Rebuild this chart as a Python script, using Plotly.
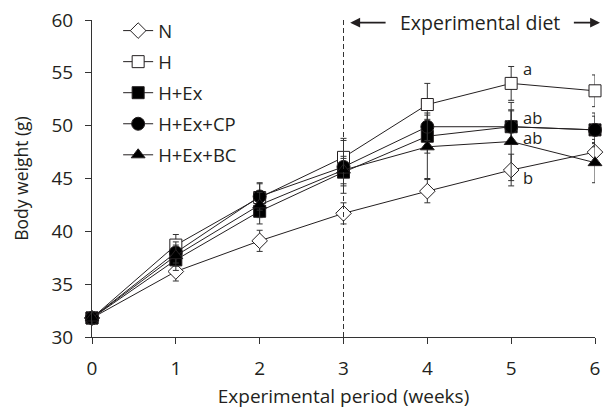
import plotly.graph_objects as go

weeks = [0, 1, 2, 3, 4, 5, 6]
groups = ["N", "H", "H+Ex", "H+Ex+CP", "H+Ex+BC"]
N_vals = [31.8, 36.2, 39.1, 41.7, 43.8, 45.8, 47.5]
N_err = [0.6, 0.9, 1.0, 1.0, 1.1, 1.5, 1.2]
H_vals = [31.8, 38.7, 43.2, 47.0, 52.0, 54.0, 53.3]
H_err = [0.6, 1.0, 1.3, 1.8, 2.0, 1.6, 1.5]
HEx_vals = [31.8, 37.3, 41.9, 45.6, 49.0, 49.9, 49.6]
HEx_err = [0.6, 1.0, 1.2, 1.3, 1.6, 1.6, 1.6]
HExCP_vals = [31.8, 38.0, 43.3, 46.1, 49.9, 49.9, 49.6]
HExCP_err = [0.6, 1.0, 1.3, 2.5, 1.3, 1.5, 1.3]
HExBC_vals = [31.8, 37.7, 42.5, 45.8, 48.0, 48.5, 46.5]
HExBC_err = [0.6, 1.0, 1.2, 1.3, 3.0, 3.7, 1.9]
sig_labels = ["a", "ab", "ab", "b"]
sig_values = [54.0, 49.9, 48.5, 45.8]
sig_offsets = [1.4, 0.9, 0.4, -0.75]

series = [
    ("N", N_vals, N_err, "diamond", 12, "white"),
    ("H", H_vals, H_err, "square", 12, "white"),
    ("H+Ex", HEx_vals, HEx_err, "square", 12, "black"),
    ("H+Ex+CP", HExCP_vals, HExCP_err, "circle", 13, "black"),
    ("H+Ex+BC", HExBC_vals, HExBC_err, "triangle-up", 12, "black"),
]

ink = "#231f20"
fig = go.Figure()
for name, vals, err, sym, size, fill in series:
    fig.add_trace(go.Scatter(
        x=weeks, y=vals, name=name, mode="lines+markers",
        legendgroup=name,
        line=dict(color=ink, width=1),
        marker=dict(symbol=sym, size=size, color=fill,
                    line=dict(color=ink, width=1)),
        error_y=dict(type="data", array=err, visible=True,
                     color="#333333", thickness=1, width=3),
        cliponaxis=False,
    ))

# dashed vertical line at week 3
fig.add_shape(type="line", x0=3, x1=3, y0=30, y1=60.25, xref="x", yref="y",
              line=dict(color="#333333", width=1, dash="5px,3px"))

# Experimental diet annotation
fig.add_annotation(x=4.63, y=59.75, text="Experimental diet", showarrow=False,
                   xref="x", yref="y", yanchor="middle",
                   font=dict(size=19.5, color=ink))
fig.add_annotation(x=3.08, y=59.75, ax=3.52, ay=59.75, axref="x", ayref="y",
                   xref="x", yref="y", text="", showarrow=True,
                   arrowhead=2, arrowsize=1.1, arrowwidth=1.8, arrowcolor=ink)
fig.add_annotation(x=6.06, y=59.75, ax=5.73, ay=59.75, axref="x", ayref="y",
                   xref="x", yref="y", text="", showarrow=True,
                   arrowhead=2, arrowsize=1.1, arrowwidth=1.8, arrowcolor=ink)

for lab, v, off in zip(sig_labels, sig_values, sig_offsets):
    fig.add_annotation(x=5, y=v + off, text=lab, showarrow=False, xshift=10,
                       xanchor="left", font=dict(size=16.5, color=ink))

font_family = "Open Sans, Lato, sans-serif"
fig.update_layout(
    width=604, height=409,
    margin=dict(l=92, r=9, t=20, b=72, autoexpand=False),
    plot_bgcolor="white", paper_bgcolor="white",
    font=dict(family=font_family, color=ink),
    showlegend=True,
    legend=dict(x=0.052, y=1.025, xanchor="left", yanchor="top",
                bgcolor="rgba(0,0,0,0)", font=dict(size=18.5),
                tracegroupgap=4, itemwidth=30),
)
fig.update_xaxes(range=[0, 6], tickvals=weeks, showline=True, linecolor="#333333",
                 ticks="outside", ticklen=6, tickcolor="#333333", showgrid=False,
                 zeroline=False, tickfont=dict(size=19), automargin=False,
                 ticklabelstandoff=8,
                 title=dict(text="Experimental period (weeks)", font=dict(size=19), standoff=9))
fig.update_yaxes(range=[30, 60], tickvals=[30, 35, 40, 45, 50, 55, 60], showline=True,
                 linecolor="#333333", ticks="outside", ticklen=6, tickcolor="#333333",
                 showgrid=False, zeroline=False, tickfont=dict(size=19), automargin=False,
                 ticklabelstandoff=8,
                 title=dict(text="Body weight (g)", font=dict(size=17.5), standoff=18))

fig.write_html("out.html", config={"displayModeBar": False},
               post_script="document.body.style.margin='0';")
